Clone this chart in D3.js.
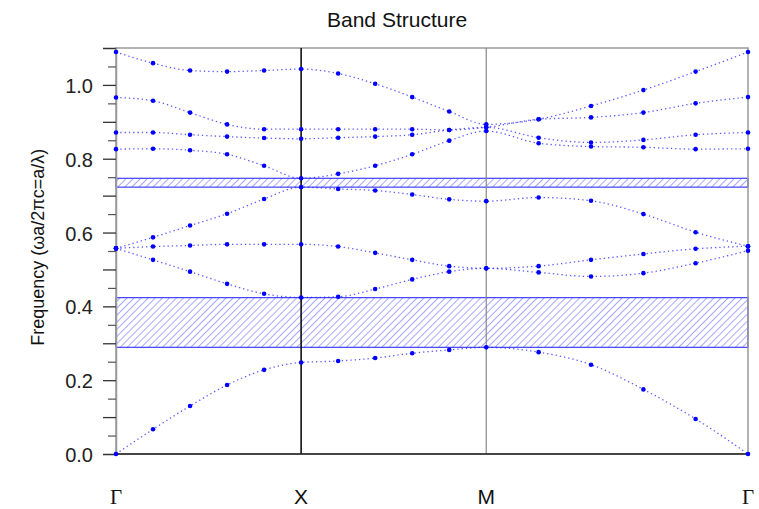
<!DOCTYPE html>
<html>
<head>
<meta charset="utf-8">
<script src="https://cdn.jsdelivr.net/npm/d3@7"></script>
<style>
  body { margin: 0; background: #fff; }
  svg { display: block; font-family: "Liberation Sans", Arial, sans-serif; }
</style>
</head>
<body>
<div id="chart"></div>
<script>
// k-path positions (Γ-X-M-Γ, path length units)
const kValues = [0, 0.2, 0.4, 0.6, 0.8, 1, 1.2, 1.4, 1.6, 1.8, 2, 2.283, 2.566, 2.849, 3.131, 3.414];
const kTickValues = [0, 1, 2, 3.414];
const kTickLabels = ["Γ", "X", "M", "Γ"];

const band1 = [0, 0.067, 0.130, 0.187, 0.228, 0.248, 0.252, 0.260, 0.273, 0.282, 0.289, 0.276, 0.242, 0.175, 0.095, 0];
const band2 = [0.557, 0.526, 0.494, 0.461, 0.434, 0.424, 0.426, 0.447, 0.473, 0.494, 0.503, 0.492, 0.481, 0.490, 0.517, 0.551];
const band3 = [0.557, 0.562, 0.565, 0.568, 0.568, 0.568, 0.562, 0.545, 0.526, 0.509, 0.503, 0.509, 0.526, 0.542, 0.556, 0.563];
const band4 = [0.557, 0.587, 0.619, 0.651, 0.691, 0.723, 0.718, 0.714, 0.703, 0.690, 0.685, 0.695, 0.686, 0.650, 0.601, 0.563];
const band5 = [0.826, 0.827, 0.823, 0.812, 0.781, 0.747, 0.759, 0.781, 0.812, 0.849, 0.875, 0.842, 0.833, 0.831, 0.826, 0.827];
const band6 = [0.871, 0.871, 0.865, 0.860, 0.856, 0.854, 0.857, 0.860, 0.865, 0.878, 0.885, 0.857, 0.844, 0.851, 0.865, 0.871];
const band7 = [0.966, 0.957, 0.925, 0.893, 0.880, 0.880, 0.880, 0.880, 0.880, 0.878, 0.885, 0.907, 0.912, 0.925, 0.950, 0.967];
const band8 = [1.089, 1.059, 1.039, 1.036, 1.039, 1.043, 1.031, 1.003, 0.967, 0.928, 0.893, 0.907, 0.943, 0.986, 1.036, 1.089];
const bands = [band1, band2, band3, band4, band5, band6, band7, band8];

// band gaps [low, high]
const gaps = [[0.289, 0.4236], [0.723, 0.747]];

const yTickLabels = [0, 0.2, 0.4, 0.6, 0.8, 1.0];
const yMajorTicks = d3.range(0, 1.1001, 0.1);
const yMinorTicks = d3.range(0.05, 1.1, 0.1);

const width = 759;
const height = 509;
const margin = { top: 48, right: 11, bottom: 55, left: 116 };

const svg = d3
  .select("#chart")
  .append("svg")
  .attr("width", width)
  .attr("height", height);

const defs = svg.append("defs");
defs
  .append("pattern")
  .attr("id", "hatch")
  .attr("patternUnits", "userSpaceOnUse")
  .attr("width", 5)
  .attr("height", 5)
  .attr("patternTransform", "rotate(45)")
  .append("line")
  .attr("x1", 0)
  .attr("y1", 0)
  .attr("x2", 0)
  .attr("y2", 5)
  .attr("stroke", "#5050ff")
  .attr("stroke-width", 1);

const x = d3
  .scaleLinear()
  .domain([0, 3.414])
  .range([margin.left, width - margin.right]);

const y = d3
  .scaleLinear()
  .domain([0, 1.1])
  .range([height - margin.bottom, margin.top]);

// title
svg
  .append("text")
  .attr("x", 327)
  .attr("y", 27)
  .style("font-size", "21px")
  .attr("fill", "#111")
  .text("Band Structure");

// gaps
svg
  .selectAll("rect.gap")
  .data(gaps)
  .enter()
  .append("rect")
  .attr("class", "gap")
  .attr("x", x(0))
  .attr("width", x(3.414) - x(0))
  .attr("y", (d) => y(d[1]))
  .attr("height", (d) => y(d[0]) - y(d[1]))
  .attr("fill", "url(#hatch)")
  .attr("stroke", "#4040ff")
  .attr("stroke-width", 1.2);

// frame
svg
  .append("rect")
  .attr("x", x(0))
  .attr("y", y(1.1))
  .attr("width", x(3.414) - x(0))
  .attr("height", y(0) - y(1.1))
  .attr("fill", "none")
  .attr("stroke", "#999")
  .attr("stroke-width", 1.5);

// symmetry point lines
svg
  .append("line")
  .attr("x1", x(1))
  .attr("x2", x(1))
  .attr("y1", y(1.1))
  .attr("y2", y(0))
  .attr("stroke", "#000")
  .attr("stroke-width", 1.5);
svg
  .append("line")
  .attr("x1", x(2))
  .attr("x2", x(2))
  .attr("y1", y(1.1))
  .attr("y2", y(0))
  .attr("stroke", "#888")
  .attr("stroke-width", 1.2);

// bottom axis line
svg
  .append("line")
  .attr("x1", x(0))
  .attr("x2", x(3.414))
  .attr("y1", y(0))
  .attr("y2", y(0))
  .attr("stroke", "#222")
  .attr("stroke-width", 1.5);

// y axis: long ticks every 0.1, short ticks in between, labels every 0.2
const yAxis = d3
  .axisLeft(y)
  .tickValues(yMajorTicks)
  .tickSize(13)
  .tickFormat((d) => {
    const hit = yTickLabels.find((t) => Math.abs(t - d) < 1e-6);
    return hit === undefined ? "" : d3.format(".1f")(hit);
  });

const yG = svg
  .append("g")
  .attr("transform", `translate(${margin.left}, 0)`)
  .call(yAxis);
yG.select(".domain").attr("stroke", "#999").attr("stroke-width", 1.5);
yG.selectAll(".tick line").attr("stroke", "#333").attr("stroke-width", 1.3);
yG.selectAll(".tick text")
  .attr("x", -23)
  .attr("dy", "0.38em")
  .attr("fill", "#222")
  .style("font-size", "20px");

const yMinor = svg
  .append("g")
  .attr("transform", `translate(${margin.left}, 0)`)
  .call(d3.axisLeft(y).tickValues(yMinorTicks).tickSize(8).tickFormat(""));
yMinor.select(".domain").remove();
yMinor.selectAll(".tick line").attr("stroke", "#555").attr("stroke-width", 1.2);

svg
  .append("text")
  .attr("transform", `translate(44, ${y(0.56)}) rotate(-90)`)
  .attr("text-anchor", "middle")
  .style("font-size", "18px")
  .attr("fill", "#111")
  .text("Frequency (ωa/2πc=a/λ)");

// x labels
svg
  .selectAll("text.klabel")
  .data(kTickValues)
  .enter()
  .append("text")
  .attr("class", "klabel")
  .attr("x", (d) => x(d))
  .attr("y", 504)
  .attr("text-anchor", "middle")
  .attr("fill", "#111")
  .style("font-size", "21px")
  .style("font-family", (d, i) => (kTickLabels[i] === "Γ" ? "'Liberation Serif', serif" : null))
  .text((d, i) => kTickLabels[i]);

// bands
const line = d3
  .line()
  .x((d, i) => x(kValues[i]))
  .y((d) => y(d))
  .curve(d3.curveMonotoneX);

svg
  .selectAll("path.band")
  .data(bands)
  .enter()
  .append("path")
  .attr("class", "band")
  .attr("d", line)
  .attr("fill", "none")
  .attr("stroke", "#2020ff")
  .attr("stroke-width", 1.3)
  .attr("stroke-dasharray", "1.3 3")
  .attr("opacity", 0.75);

bands.forEach((b) => {
  svg
    .append("g")
    .selectAll("circle")
    .data(b)
    .enter()
    .append("circle")
    .attr("cx", (d, i) => x(kValues[i]))
    .attr("cy", (d) => y(d))
    .attr("r", 2.3)
    .attr("fill", "#0000ff");
});
</script>
</body>
</html>
